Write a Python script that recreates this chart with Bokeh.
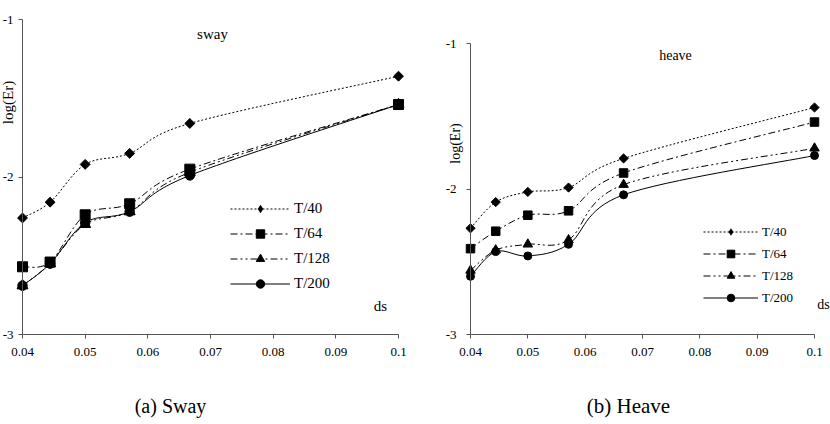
import numpy as np
from bokeh.plotting import figure
from bokeh.layouts import row
from bokeh.models import (ColumnDataSource, FixedTicker, Legend, LegendItem, Label,
                          LinearAxis, Range1d)
from bokeh.embed import file_html
from bokeh.resources import INLINE

# Grid spacing ds and log10 error for four time steps
ds = [0.04, 0.0444, 0.05, 0.0571, 0.0667, 0.1]
series_names = ["T/40", "T/64", "T/128", "T/200"]

sway_t40 = [-2.26, -2.16, -1.92, -1.85, -1.66, -1.36]
sway_t64 = [-2.57, -2.54, -2.24, -2.17, -1.95, -1.54]
sway_t128 = [-2.69, -2.55, -2.30, -2.22, -1.97, -1.54]
sway_t200 = [-2.69, -2.55, -2.29, -2.22, -1.99, -1.54]

heave_t40 = [-2.27, -2.09, -2.02, -1.99, -1.79, -1.44]
heave_t64 = [-2.41, -2.29, -2.18, -2.15, -1.89, -1.54]
heave_t128 = [-2.56, -2.42, -2.38, -2.35, -1.97, -1.72]
heave_t200 = [-2.60, -2.43, -2.46, -2.38, -2.04, -1.77]

x_ticks = [0.04, 0.05, 0.06, 0.07, 0.08, 0.09, 0.1]
x_tick_labels = ["0.04", "0.05", "0.06", "0.07", "0.08", "0.09", "0.1"]
y_ticks = [-3, -2, -1]
y_tick_labels = ["-3", "-2", "-1"]

FONT = "Liberation Serif, Times New Roman, serif"
AXIS_COLOR = "#555555"
PANEL_W, PANEL_H = 415, 424

# marker, angle, dash for each series
STYLES = [
    ("square", np.pi / 4, "2 2"),
    ("square", 0.0, "7 3 2 3"),
    ("triangle", 0.0, "7 3 2 3 2 3"),
    ("circle", 0.0, "solid"),
]


def smooth_segments(xs, ys):
    """Cubic Bezier control points (Catmull-Rom style) for a smoothed line."""
    xs = np.asarray(xs, dtype=float)
    ys = np.asarray(ys, dtype=float)
    n = len(xs)
    cols = {k: [] for k in ("x0", "y0", "x1", "y1", "cx0", "cy0", "cx1", "cy1")}
    for i in range(n - 1):
        im = max(i - 1, 0)
        ip = min(i + 2, n - 1)
        cols["x0"].append(xs[i]); cols["y0"].append(ys[i])
        cols["x1"].append(xs[i + 1]); cols["y1"].append(ys[i + 1])
        cols["cx0"].append(xs[i] + (xs[i + 1] - xs[im]) / 6)
        cols["cy0"].append(ys[i] + (ys[i + 1] - ys[im]) / 6)
        cols["cx1"].append(xs[i + 1] - (xs[ip] - xs[i]) / 6)
        cols["cy1"].append(ys[i + 1] - (ys[ip] - ys[i]) / 6)
    return cols


def make_panel(series, frame_px, marker_sizes, legend_cfg, texts, ystandoff):
    """frame_px: pixel box (left, right, top, bottom) of the axes inside the panel."""
    left, right, top, bottom = frame_px
    x0, x1 = x_ticks[0], x_ticks[-1]
    y0, y1 = y_ticks[0], y_ticks[-1]
    kx = (x1 - x0) / (right - left)
    ky = (y1 - y0) / (bottom - top)
    x_start = x0 - left * kx
    y_end = y1 + top * ky

    def px_x(px):
        return x_start + px * kx

    def px_y(py):
        return y_end - py * ky

    p = figure(width=PANEL_W, height=PANEL_H,
               x_range=Range1d(x_start, x_start + PANEL_W * kx),
               y_range=Range1d(y_end - PANEL_H * ky, y_end),
               x_axis_location=None, y_axis_location=None,
               output_backend="svg", toolbar_location=None,
               min_border=0)
    p.outline_line_color = None
    p.grid.visible = False

    xa = LinearAxis(fixed_location=y0, bounds=(x0, x1),
                    ticker=FixedTicker(ticks=x_ticks),
                    major_label_overrides=dict(zip(x_ticks, x_tick_labels)))
    ya = LinearAxis(fixed_location=x0, bounds=(y0, y1),
                    ticker=FixedTicker(ticks=y_ticks),
                    major_label_overrides=dict(zip(y_ticks, y_tick_labels)))
    for ax, standoff in ((xa, 9), (ya, ystandoff)):
        ax.axis_line_color = AXIS_COLOR
        ax.major_tick_line_color = AXIS_COLOR
        ax.major_tick_in = 0
        ax.major_tick_out = 4
        ax.minor_tick_line_color = None
        ax.major_label_text_font = FONT
        ax.major_label_text_font_size = "13px"
        ax.major_label_text_color = "black"
        ax.major_label_standoff = standoff
    p.add_layout(xa, "below")
    p.add_layout(ya, "left")

    items = []
    for name, ys, (marker, angle, dash), msize in zip(series_names, series, STYLES, marker_sizes):
        src = ColumnDataSource(smooth_segments(ds, ys))
        curve = p.bezier(x0="x0", y0="y0", x1="x1", y1="y1", cx0="cx0", cy0="cy0",
                         cx1="cx1", cy1="cy1", source=src, line_color="black",
                         line_width=1, line_dash=dash)
        pts = p.scatter(ds, ys, marker=marker, angle=angle, size=msize,
                        fill_color="black", line_color="black")
        key = pts
        if angle != 0:
            # legend swatches are never rotated: a zero-size diamond renderer
            # supplies the diamond swatch without drawing anything on the plot
            key = p.scatter(ds, ys, marker="diamond", size=0, fill_color="black",
                            line_color="black", line_width=0)
        items.append(LegendItem(label=name, renderers=[curve, key]))

    lx, lbottom = legend_cfg["pos"]
    legend = Legend(items=items, location=(lx, PANEL_H - lbottom), padding=0, margin=0,
                    border_line_color=None, background_fill_alpha=0,
                    glyph_width=legend_cfg["gw"], glyph_height=legend_cfg["gh"],
                    label_height=legend_cfg["gh"], spacing=legend_cfg["sp"],
                    label_standoff=4, label_text_font=FONT,
                    label_text_color="black",
                    label_text_font_size=legend_cfg["fs"])
    p.add_layout(legend)

    for text, tx, ty, size, rot in texts:
        p.add_layout(Label(x=px_x(tx), y=px_y(ty), text=text, angle=rot,
                           text_align="center", text_baseline="middle",
                           text_font=FONT, text_font_size=size,
                           text_color="black"))
    return p


sway = make_panel(
    [sway_t40, sway_t64, sway_t128, sway_t200],
    frame_px=(22, 398, 19, 334),
    marker_sizes=[7, 10, 11, 9.5],
    legend_cfg=dict(pos=(230, 294), gw=60, gh=21, sp=4, fs="15px"),
    texts=[("sway", 212, 33, "15px", 0),
           ("log(Er)", 7, 102, "15px", np.pi / 2),
           ("ds", 380, 305, "15px", 0),
           ("(a) Sway", 170, 405, "20px", 0)],
    ystandoff=5,
)

heave = make_panel(
    [heave_t40, heave_t64, heave_t128, heave_t200],
    frame_px=(55, 399, 43, 334),
    marker_sizes=[6.5, 8.5, 9.5, 8],
    legend_cfg=dict(pos=(288, 307), gw=55, gh=19, sp=3, fs="13px"),
    texts=[("heave", 260, 55, "14px", 0),
           ("log(Er)", 40, 143, "14px", np.pi / 2),
           ("ds", 408, 304, "14px", 0),
           ("(b) Heave", 213, 405, "21px", 0)],
    ystandoff=10,
)

layout = row(sway, heave, spacing=0)
open("out.html", "w").write(file_html(layout, INLINE))
